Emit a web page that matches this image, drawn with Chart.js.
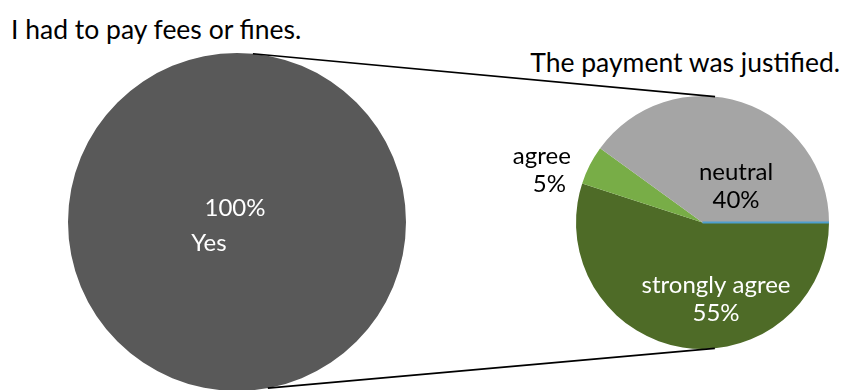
<!DOCTYPE html>
<html>
<head>
<meta charset="utf-8">
<script src="https://cdn.jsdelivr.net/npm/chart.js@4.4.1/dist/chart.umd.min.js"></script>
<style>
  html, body { margin: 0; padding: 0; background: #fff; width: 850px; height: 390px; overflow: hidden; }
  #wrap { position: relative; width: 850px; height: 390px; font-family: Lato, "Open Sans", sans-serif; }
  .title { position: absolute; font-size: 26.5px; line-height: 32px; color: #000; white-space: nowrap; }
  #t1 { left: 11px; top: 13px; }
  #t2 { right: 10px; top: 46px; }
  canvas { position: absolute; }
  #mainPie { left: 68px; top: 53px; }
  #detailPie { left: 500px; top: 96px; }
  #links { left: 0; top: 0; pointer-events: none; }
</style>
</head>
<body>
<div id="wrap">
  <div class="title" id="t1">I had to pay fees or fines.</div>
  <div class="title" id="t2">The payment was justified.</div>
  <canvas id="mainPie" width="338" height="338" style="width:338px;height:338px"></canvas>
  <canvas id="detailPie" width="350" height="253" style="width:350px;height:253px"></canvas>
  <canvas id="links" width="850" height="390" style="width:850px;height:390px"></canvas>
</div>
<script>
// Outer question: share of respondents who paid
const paidLabels = ['Yes'];
const paidValues = [100];
const paidText = ['100%'];

// Follow-up question: was the payment justified
const justLabels = ['strongly agree', 'agree', 'neutral', 'disagree'];
const justValues = [55, 5, 40, 0];
const justText = ['55%', '5%', '40%', '0%'];

const FONT = 'Lato, "Open Sans", sans-serif';

// Label placement for each slice: offset from pie centre in units of radius
const labelStyle = {
  mainPie: [{ lines: [[-0.012, -0.083], [-0.166, 0.124]], color: '#ffffff' }],
  detailPie: [
    { lines: [[0.107, 0.494], [0.107, 0.715]], color: '#ffffff' },
    { lines: [[-1.27, -0.526], [-1.21, -0.30]], color: '#000000' },
    { lines: [[0.265, -0.40], [0.265, -0.178]], color: '#000000' },
    null
  ]
};

// Draws category + percentage text for each slice
const sliceLabels = {
  id: 'sliceLabels',
  afterDatasetsDraw(chart) {
    const cfg = labelStyle[chart.canvas.id];
    const meta = chart.getDatasetMeta(0);
    const ctx = chart.ctx;
    const labels = chart.data.labels;
    const texts = chart.options.plugins.sliceLabels.texts;
    ctx.save();
    ctx.font = '24px ' + FONT;
    ctx.textAlign = 'center';
    ctx.textBaseline = 'middle';
    meta.data.forEach((arc, i) => {
      const c = cfg[i];
      if (!c) return;
      const r = arc.outerRadius;
      ctx.fillStyle = c.color;
      const parts = chart.canvas.id === 'mainPie' ? [texts[i], labels[i]] : [labels[i], texts[i]];
      parts.forEach((t, k) => {
        ctx.fillText(t, arc.x + c.lines[k][0] * r, arc.y + c.lines[k][1] * r);
      });
    });
    ctx.restore();
  }
};

// A zero-sized slice is shown as a thin radial line in its colour
const zeroSlices = {
  id: 'zeroSlices',
  afterDatasetsDraw(chart) {
    const meta = chart.getDatasetMeta(0);
    const ds = chart.data.datasets[0];
    const ctx = chart.ctx;
    meta.data.forEach((arc, i) => {
      if (ds.data[i] !== 0) return;
      ctx.save();
      ctx.strokeStyle = ds.backgroundColor[i];
      ctx.lineWidth = 2;
      ctx.beginPath();
      ctx.moveTo(arc.x, arc.y);
      ctx.lineTo(arc.x + Math.cos(arc.startAngle) * arc.outerRadius,
                 arc.y + Math.sin(arc.startAngle) * arc.outerRadius);
      ctx.stroke();
      ctx.restore();
    });
  }
};

function pieOptions(texts, rotation, padding) {
  return {
    responsive: false,
    animation: false,
    rotation: rotation,
    layout: { padding: padding },
    plugins: {
      legend: { display: false },
      tooltip: { enabled: false },
      sliceLabels: { texts: texts }
    }
  };
}

const mainChart = new Chart(document.getElementById('mainPie'), {
  type: 'pie',
  data: {
    labels: paidLabels,
    datasets: [{ data: paidValues, backgroundColor: ['#595959'], borderWidth: 0 }]
  },
  options: pieOptions(paidText, 0, 0),
  plugins: [sliceLabels]
});

const detailChart = new Chart(document.getElementById('detailPie'), {
  type: 'pie',
  data: {
    labels: justLabels,
    datasets: [{
      data: justValues,
      backgroundColor: ['#4e6b27', '#78ad47', '#a5a5a5', '#4ea0cf'],
      borderWidth: 0
    }]
  },
  options: pieOptions(justText, 90, { left: 76, right: 21, top: 0, bottom: 0 }),
  plugins: [sliceLabels, zeroSlices]
});

// Connector lines from the outer pie to the breakdown pie
function drawLinks() {
  const canvas = document.getElementById('links');
  const ctx = canvas.getContext('2d');
  const a = mainChart.getDatasetMeta(0).data[0];
  const b = detailChart.getDatasetMeta(0).data[0];
  const ca = mainChart.canvas, cb = detailChart.canvas;
  const ax = ca.offsetLeft + a.x, ay = ca.offsetTop + a.y, ar = a.outerRadius;
  const bx = cb.offsetLeft + b.x, by = cb.offsetTop + b.y, br = b.outerRadius;
  const deg = Math.PI / 180;
  const pairs = [[-84.6, -84.3], [79.5, 84.4]];
  ctx.strokeStyle = '#000';
  ctx.lineWidth = 1.6;
  pairs.forEach(([p, q]) => {
    ctx.beginPath();
    ctx.moveTo(ax + Math.cos(p * deg) * ar, ay + Math.sin(p * deg) * ar);
    ctx.lineTo(bx + Math.cos(q * deg) * br, by + Math.sin(q * deg) * br);
    ctx.stroke();
  });
}
drawLinks();
</script>
</body>
</html>
